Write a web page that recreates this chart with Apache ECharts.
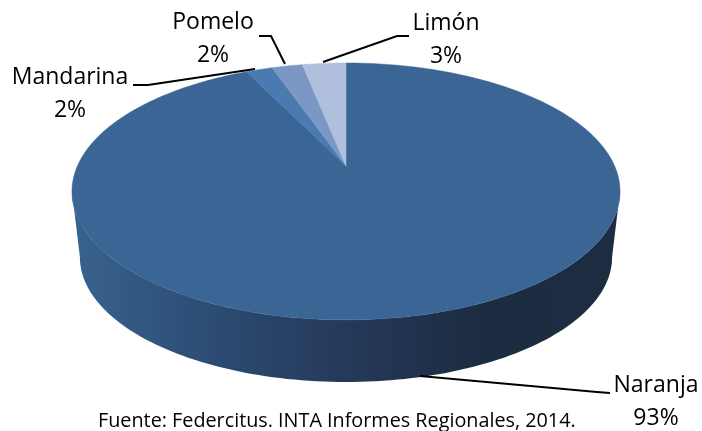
<!DOCTYPE html>
<html>
<head>
<meta charset="utf-8">
<script src="https://cdn.jsdelivr.net/npm/echarts@6/dist/echarts.min.js"></script>
<style>html,body{margin:0;padding:0;background:#fff}#c{width:702px;height:431px}</style>
</head>
<body>
<div id="c"></div>
<script>
// Data (clockwise from 12 o'clock)
const categories = ['Naranja', 'Mandarina', 'Pomelo', 'Limón'];
const values = [92.8, 1.9, 2.2, 3.1];
const sourceNote = 'Fuente: Federcitus. INTA Informes Regionales, 2014.';

// Styling
const sliceColors = ['#3b6595', '#4a7ab0', '#7b98c4', '#b0bfdc'];
const labelFont = '23px "Open Sans"';
const labelBoxes = [
  { x: 656, y1: 385, y2: 418, line: [[420, 376], [597, 392], [610, 393]] },
  { x: 70, y1: 77, y2: 110, line: [[133, 85], [148, 85], [255, 69]] },
  { x: 213, y1: 22, y2: 55, line: [[259, 36], [271, 36], [285, 64]] },
  { x: 446, y1: 23, y2: 56, line: [[409, 36], [397, 36], [323, 62]] }
];
// Perspective projection of the disc
const persp = 0.198;
const topDisc = { cx: 346, cy: 166, a: 268.6, b: 123.4 };
const lowDisc = { cx: 346, cy: 232.6, a: 260.8, b: 119.8 };
const project = (d, u, v) => {
  const w = 1 - persp * v;
  return [d.cx + d.a * u / w, d.cy + d.b * v / w];
};
const rim = (d, theta) => project(d, Math.sin(theta), -Math.cos(theta));
const total = values.reduce((s, v) => s + v, 0);

function renderItem(params, api) {
  const i = params.dataIndex;
  let before = 0;
  for (let j = 0; j < i; j++) before += values[j];
  const start = before / total * 2 * Math.PI;
  const end = (before + api.value(0)) / total * 2 * Math.PI;
  const pts = [[topDisc.cx, topDisc.cy]];
  const n = Math.max(6, Math.ceil((end - start) * 60));
  for (let s = 0; s <= n; s++) pts.push(rim(topDisc, start + (end - start) * s / n));

  const children = [];
  if (i === 0) {
    const t0 = Math.asin(persp);
    const wall = [];
    const m = 120;
    for (let s = 0; s <= m; s++) {
      const t = t0 + (Math.PI - 2 * t0) * s / m;
      wall.push(project(topDisc, Math.cos(t), Math.sin(t)));
    }
    for (let s = m; s >= 0; s--) {
      const t = t0 + (Math.PI - 2 * t0) * s / m;
      wall.push(project(lowDisc, Math.cos(t), Math.sin(t)));
    }
    children.push({
      type: 'polygon', shape: { points: wall },
      style: { fill: new echarts.graphic.LinearGradient(72, 0, 620, 0, [
        { offset: 0, color: '#38638f' },
        { offset: 0.25, color: '#2c4c73' },
        { offset: 0.5, color: '#25395a' },
        { offset: 0.75, color: '#1c2c40' },
        { offset: 1, color: '#1c2d42' }
      ], true) }
    });
  }
  children.push({
    type: 'polygon', shape: { points: pts },
    style: { fill: sliceColors[i], stroke: sliceColors[i], lineWidth: 0.5 }
  });
  const box = labelBoxes[i];
  children.push({
    type: 'polyline', shape: { points: box.line },
    style: { fill: 'none', stroke: '#000', lineWidth: 2 }
  });
  children.push({
    type: 'text',
    style: { text: categories[i], x: box.x, y: box.y1, fill: '#000', font: labelFont, textAlign: 'center', textVerticalAlign: 'middle' }
  });
  children.push({
    type: 'text',
    style: { text: Math.round(api.value(0)) + '%', x: box.x, y: box.y2, fill: '#000', font: labelFont, textAlign: 'center', textVerticalAlign: 'middle' }
  });
  return { type: 'group', children };
}

const chart = echarts.init(document.getElementById('c'), null, { renderer: 'canvas' });
chart.setOption({
  animation: false,
  backgroundColor: '#fff',
  title: {
    text: sourceNote, left: 98, top: 411,
    padding: 0,
    textStyle: { fontFamily: 'Open Sans', fontSize: 19.8, fontWeight: 'normal', color: '#000' }
  },
  series: [{
    type: 'custom',
    coordinateSystem: 'none',
    renderItem,
    data: categories.map((name, i) => ({ name, value: [values[i]] }))
  }]
});
</script>
</body>
</html>
